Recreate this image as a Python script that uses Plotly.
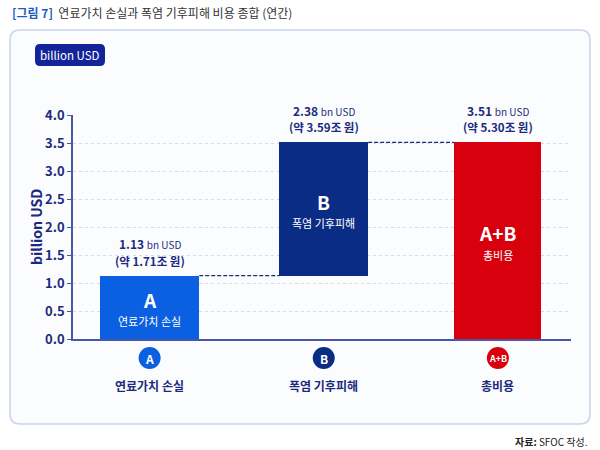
import plotly.graph_objects as go

# ---- data ----
categories = ["A", "B", "A+B"]
bar_names = ["연료가치 손실", "폭염 기후피해", "총비용"]
values_usd = [1.13, 2.38, 3.51]          # billion USD
values_krw = ["1.71", "3.59", "5.30"]    # 조 원
bar_bases = [0, 1.13, 0]
y_ticks = [0.0, 0.5, 1.0, 1.5, 2.0, 2.5, 3.0, 3.5, 4.0]

colors = ["#0a60e0", "#0a2c85", "#d9000d"]
widths = [0.57, 0.51, 0.5]
NAVY = "#1b2a7e"
FONT = "Noto Sans CJK KR"

W, H = 600, 450
L, R, T, B = 73, 29, 115, 111
PW, PH = W - L - R, H - T - B


def px(xp):
    return (xp - L) / PW


def py(yp):
    return (H - B - yp) / PH


xs = list(range(len(categories)))
fig = go.Figure()
fig.add_trace(go.Bar(
    x=xs, y=values_usd, base=bar_bases,
    width=widths, marker=dict(color=colors, line=dict(width=0)),
    hoverinfo="skip", showlegend=False,
))

ann = []
shapes = []


def rrect(x0, y0, x1, y1, r):
    X0, X1 = px(x0), px(x1)
    Y0, Y1 = py(y0), py(y1)
    rx, ry = r / PW, r / PH
    return (f"M {X0+rx},{Y0} L {X1-rx},{Y0} Q {X1},{Y0} {X1},{Y0-ry} "
            f"L {X1},{Y1+ry} Q {X1},{Y1} {X1-rx},{Y1} L {X0+rx},{Y1} "
            f"Q {X0},{Y1} {X0},{Y1+ry} L {X0},{Y0-ry} Q {X0},{Y0} {X0+rx},{Y0} Z")


shapes.append(dict(type="path", xref="paper", yref="paper", layer="below",
                   path=rrect(10, 30, 590, 424, 10),
                   fillcolor="#fbfcfd", line=dict(color="#c9d3ea", width=1.5)))
# badge
shapes.append(dict(type="path", xref="paper", yref="paper", layer="below",
                   path=rrect(35, 44, 105, 66, 5),
                   fillcolor="#13249b", line=dict(width=0)))
ann.append(dict(x=px(70), y=py(55), xref="paper", yref="paper", text="billion USD",
                xanchor="center", yanchor="middle",
                showarrow=False, font=dict(family=FONT, size=11.5, color="white")))

# connectors
shapes.append(dict(type="line", xref="x", yref="y",
                   x0=xs[0] + widths[0] / 2, x1=xs[1] - widths[1] / 2,
                   y0=values_usd[0], y1=values_usd[0],
                   line=dict(color=NAVY, width=1.3, dash="4px,2px")))
top_b = bar_bases[1] + values_usd[1]
shapes.append(dict(type="line", xref="x", yref="y",
                   x0=xs[1] + widths[1] / 2, x1=xs[2] - widths[2] / 2,
                   y0=top_b, y1=top_b,
                   line=dict(color=NAVY, width=1.3, dash="4px,2px")))

tops = [bar_bases[i] + values_usd[i] for i in range(3)]
for i, c in enumerate(categories):
    ann.append(dict(x=xs[i], y=tops[i], xref="x", yref="y", yshift=32, yanchor="middle",
                    text=f"<b>{values_usd[i]:.2f}</b> <span style='font-size:10px'>bn USD</span>",
                    showarrow=False, font=dict(family=FONT, size=12, color=NAVY)))
    ann.append(dict(x=xs[i], y=tops[i], xref="x", yref="y", yshift=15, yanchor="middle",
                    text=f"<b>(약 {values_krw[i]}조 원)</b>",
                    showarrow=False, font=dict(family=FONT, size=11.5, color=NAVY)))
    mid = bar_bases[i] + values_usd[i] / 2
    ann.append(dict(x=xs[i], y=mid, xref="x", yref="y", yshift=8, yanchor="middle",
                    text=f"<b>{c}</b>", showarrow=False,
                    font=dict(family=FONT, size=19, color="white")))
    ann.append(dict(x=xs[i], y=mid, xref="x", yref="y", yshift=-14, yanchor="middle",
                    text=bar_names[i], showarrow=False,
                    font=dict(family=FONT, size=11, color="white")))
    shapes.append(dict(type="circle", xref="x", yref="paper",
                       xsizemode="pixel", ysizemode="pixel",
                       xanchor=xs[i], yanchor=py(358),
                       x0=-11, x1=11, y0=-11, y1=11,
                       fillcolor=colors[i], line=dict(width=0)))
    ann.append(dict(x=xs[i], y=py(358), xref="x", yref="paper", yanchor="middle",
                    text=f"<b>{c}</b>", showarrow=False,
                    font=dict(family=FONT, size=12 if len(c) == 1 else 9, color="white")))
    ann.append(dict(x=xs[i], y=py(385), xref="x", yref="paper", yanchor="middle",
                    text=f"<b>{bar_names[i]}</b>", showarrow=False,
                    font=dict(family=FONT, size=12, color=NAVY)))

ann.append(dict(x=px(36), y=py(227), xref="paper", yref="paper", text="<b>billion USD</b>",
                xanchor="center", yanchor="middle",
                textangle=-90, showarrow=False,
                font=dict(family=FONT, size=14, color=NAVY)))
ann.append(dict(x=px(10), y=py(12), xref="paper", yref="paper", xanchor="left", yanchor="middle",
                text="<span style='color:#1f5bc4'><b>[그림 7]</b></span>  연료가치 손실과 폭염 기후피해 비용 종합 (연간)",
                showarrow=False, font=dict(family=FONT, size=12, color="#333333")))
ann.append(dict(x=px(590), y=py(441), xref="paper", yref="paper", xanchor="right",
                yanchor="middle", text="<b>자료:</b> SFOC 작성.",
                showarrow=False, font=dict(family=FONT, size=10, color="#222222")))

fig.update_layout(
    width=W, height=H, margin=dict(l=L, r=R, t=T, b=B),
    paper_bgcolor="white", plot_bgcolor="rgba(0,0,0,0)",
    font=dict(family=FONT, color=NAVY),
    bargap=0, shapes=shapes, annotations=ann,
    xaxis=dict(range=[-0.44, 2.42], showticklabels=False, ticks="",
               showgrid=False, zeroline=False, showline=True,
               linecolor="#4a56a6", linewidth=1.5, fixedrange=True),
    yaxis=dict(range=[0, 4.0], tickvals=y_ticks, ticktext=[f"<b>{v:.1f}</b>" for v in y_ticks],
               ticks="outside", ticklen=4, tickcolor="#4a56a6", tickwidth=1.2,
               showline=True, linecolor="#4a56a6", linewidth=1.5,
               showgrid=True, gridcolor="#d8dbe3", griddash="dot", gridwidth=1,
               zeroline=False, tickfont=dict(family=FONT, size=13, color=NAVY),
               fixedrange=True),
)

fig.write_html("out.html", config={"displayModeBar": False},
               post_script="document.body.style.margin='0';document.body.style.padding='0';")
